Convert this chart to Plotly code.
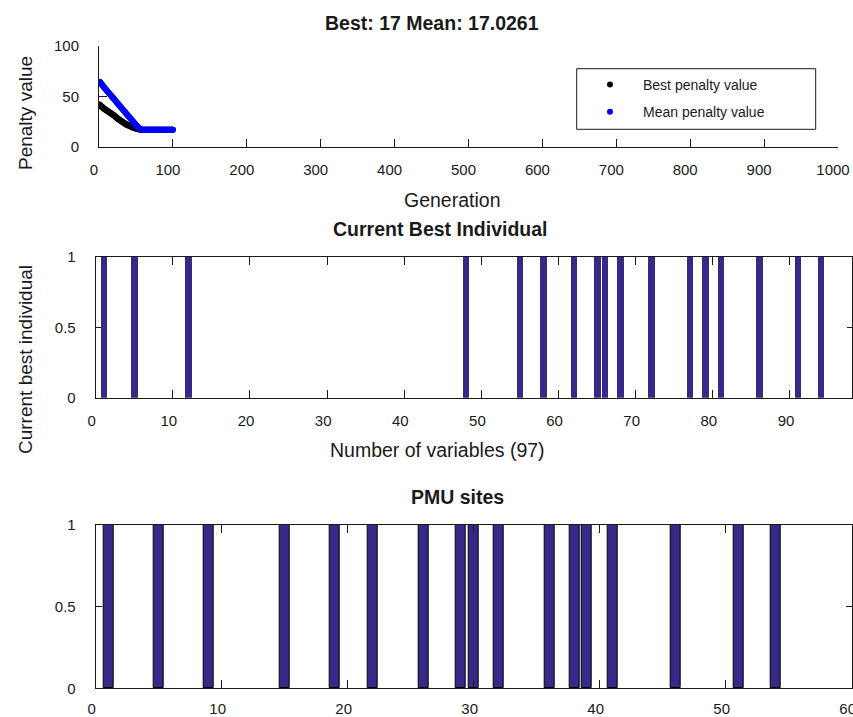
import plotly.graph_objects as go

# ---------------- data ----------------
generations = list(range(1, 101))

best_penalty = [
    42, 41, 40, 40, 39, 38, 38, 37, 37, 36,
    36, 35, 35, 34, 34, 33, 33, 32, 32, 31,
    31, 30, 29, 29, 28, 28, 27, 27, 26, 26,
    25, 25, 24, 24, 23, 23, 22, 22, 22, 21,
    21, 21, 20, 20, 20, 19, 19, 19, 19, 18,
    18, 18, 18, 18, 17, 17, 17, 17, 17, 17,
    17, 17, 17, 17, 17, 17, 17, 17, 17, 17,
    17, 17, 17, 17, 17, 17, 17, 17, 17, 17,
    17, 17, 17, 17, 17, 17, 17, 17, 17, 17,
    17, 17, 17, 17, 17, 17, 17, 17, 17, 17,
]

mean_penalty = [
    64.3, 63.6, 62.3, 61.9, 60.8, 59.6, 58.8, 57.9, 57.0, 56.2,
    55.3, 54.5, 53.5, 52.8, 51.9, 51.1, 50.2, 49.4, 48.5, 47.6,
    46.8, 45.8, 45.0, 44.1, 43.3, 42.4, 41.5, 40.7, 39.8, 39.0,
    38.1, 37.2, 36.4, 35.5, 34.7, 33.8, 32.9, 32.1, 31.2, 30.4,
    29.5, 28.6, 27.8, 26.9, 26.1, 25.2, 24.4, 23.5, 22.7, 21.8,
    21.0, 20.2, 19.4, 18.7, 18.1, 17.6, 17.3, 17.15, 17.08, 17.05,
    17.04, 17.06, 17.03, 17.05, 17.02, 17.04, 17.03, 17.06, 17.02, 17.03,
    17.05, 17.02, 17.04, 17.03, 17.02, 17.05, 17.03, 17.02, 17.04, 17.03,
    17.02, 17.03, 17.05, 17.02, 17.03, 17.04, 17.02, 17.03, 17.02, 17.04,
    17.03, 17.02, 17.03, 17.02, 17.04, 17.03, 17.02, 17.03, 17.02, 17.03,
]

num_variables = 97
best_individual_ones = [1, 5, 12, 48, 55, 58, 62, 65, 66, 68, 72, 77, 79, 81, 86, 91, 94]
variable_index = list(range(1, num_variables + 1))
best_individual = [1 if i in best_individual_ones else 0 for i in variable_index]

pmu_sites = [1, 5, 9, 15, 19, 22, 26, 29, 30, 32, 36, 38, 39, 41, 46, 51, 54]
pmu_values = [1] * len(pmu_sites)

gen_ticks = list(range(0, 1001, 100))
penalty_ticks = [0, 50, 100]
var_ticks = list(range(0, 91, 10))
bus_ticks = list(range(0, 61, 10))
binary_ticks = [0, 0.5, 1]

# ---------------- styling ----------------
W, H = 853, 717
FONT = "Liberation Sans, Arial, Helvetica, sans-serif"
AX = "#1a1a1a"
BAR = "#352A87"


def px(x):
    return x / W


def py(y):
    return 1 - y / H


fig = go.Figure()

fig.add_trace(go.Scatter(
    x=generations, y=best_penalty, mode="markers", name="Best penalty value",
    marker=dict(color="black", size=6), xaxis="x", yaxis="y", legendgroup="a"))
fig.add_trace(go.Scatter(
    x=generations, y=mean_penalty, mode="markers", name="Mean penalty value",
    marker=dict(color="#0000FF", size=6), xaxis="x", yaxis="y", legendgroup="b"))

fig.add_trace(go.Bar(
    x=variable_index, y=best_individual, width=0.8, showlegend=False,
    marker=dict(color=BAR, line=dict(width=0)), xaxis="x2", yaxis="y2"))

fig.add_trace(go.Bar(
    x=pmu_sites, y=pmu_values, width=0.8, showlegend=False,
    marker=dict(color=BAR, line=dict(width=1, color="black")), xaxis="x3", yaxis="y3"))

common = dict(showgrid=False, zeroline=False, showline=True, linecolor=AX, linewidth=1,
              ticks="inside", tickcolor=AX, tickwidth=1,
              tickfont=dict(family=FONT, size=15, color=AX), automargin=False,
              ticklabeloverflow="allow")

fig.update_layout(
    width=W, height=H, margin=dict(l=0, r=0, t=0, b=0),
    paper_bgcolor="white", plot_bgcolor="white",
    font=dict(family=FONT, color=AX),
    bargap=0,
    xaxis=dict(domain=[px(99), px(838)], range=[0, 1000], tickvals=gen_ticks,
               ticklen=8, mirror=False, anchor="y", ticklabelstandoff=9,
               ticklabelshift=-5, **common),
    yaxis=dict(domain=[py(147), py(45.7)], range=[0, 100], tickvals=penalty_ticks,
               ticklen=8, mirror=False, anchor="x", ticklabelstandoff=16, **common),
    xaxis2=dict(domain=[px(95.7), px(851.7)], range=[0, 98], tickvals=var_ticks,
                ticklen=8, mirror="ticks", anchor="y2", ticklabelstandoff=9,
                ticklabelshift=-4, **common),
    yaxis2=dict(domain=[py(397.7), py(257)], range=[0, 1], tickvals=binary_ticks,
                ticktext=["0", "0.5", "1"],
                ticklen=5, mirror="ticks", anchor="x2", ticklabelstandoff=16, **common),
    xaxis3=dict(domain=[px(95.7), px(851.7)], range=[0, 60], tickvals=bus_ticks,
                ticklen=8, mirror="ticks", anchor="y3", ticklabelstandoff=7,
                ticklabelshift=-4, **common),
    yaxis3=dict(domain=[py(688.3), py(525)], range=[0, 1], tickvals=binary_ticks,
                ticktext=["0", "0.5", "1"],
                ticklen=6, mirror="ticks", anchor="x3", ticklabelstandoff=16, **common),
    legend=dict(x=px(577), y=py(69), xanchor="left", yanchor="top",
                bgcolor="rgba(0,0,0,0)", borderwidth=0, itemwidth=56,
                tracegroupgap=6, font=dict(family=FONT, size=14, color=AX)),
)

fig.add_shape(type="rect", xref="paper", yref="paper",
              x0=px(576.7), x1=px(815.7), y0=py(129.3), y1=py(68.7),
              line=dict(color=AX, width=1), fillcolor="rgba(0,0,0,0)")

annotations = [
    ("<b>Best: 17 Mean: 17.0261</b>", 432, 22.5, 19.5, 0),
    ("Generation", 451.7, 200, 19.5, 0),
    ("<b>Current Best Individual</b>", 440.5, 229, 19.5, 0),
    ("Number of variables (97)", 437.5, 450, 19.5, 0),
    ("<b>PMU sites</b>", 458, 497, 19.5, 0),
    ("Penalty value", 25, 113, 19, -90),
    ("Current best individual", 25, 360, 19, -90),
]
for text, x, y, size, ang in annotations:
    fig.add_annotation(text=text, x=px(x), y=py(y), xref="paper", yref="paper",
                       xanchor="center", yanchor="middle", showarrow=False,
                       textangle=ang, font=dict(family=FONT, size=size, color=AX))

fig.write_html("out.html")
